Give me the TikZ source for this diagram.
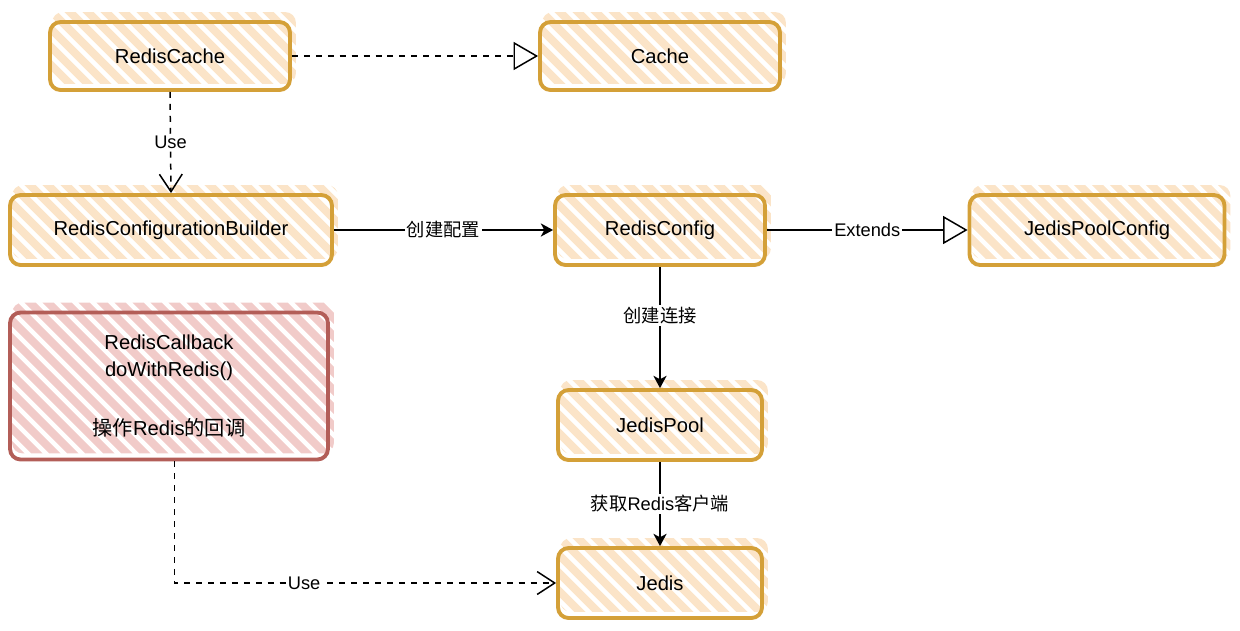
\documentclass[tikz,border=0pt]{standalone}
\usepackage{fontspec}
\setmainfont{Liberation Sans}
\newfontfamily\cjk{Noto Sans CJK SC}
\usetikzlibrary{arrows.meta,backgrounds}
\definecolor{ostroke}{HTML}{D4A038}
\definecolor{ofill}{HTML}{FBE4C8}
\definecolor{rstroke}{HTML}{B35E58}
\definecolor{rfill}{HTML}{F1CBC9}
\tikzset{
  box/.style={draw=ostroke, line width=2.2pt, rounded corners=6pt, inner sep=0pt,
    font=\fontsize{11.5}{15.3}\selectfont, align=center},
  rbox/.style={draw=rstroke},
  lbl/.style={fill=white, inner sep=1pt, font=\fontsize{10.4}{12}\selectfont},
  conn/.style={line width=0.85pt, black},
  dsh/.style={dash pattern=on 3.4pt off 3.4pt},
  opentri/.style={-{Triangle[open, length=14pt, width=16pt]}},
  openv/.style={-{Straight Barb[length=10pt, width=13pt]}},
  solidarr/.style={-{Stealth[length=7pt, width=7.5pt, inset=2pt]}}
}
\newcommand\boxhatch[2]{%
  \begin{scope}[on background layer]
  \begin{scope}
    \clip[rounded corners=6pt] ([shift={(4,-8)}]#1.south west) rectangle ([shift={(4,-8)}]#1.north east);
    \foreach \k in {-180,-162,...,360}
      \draw[#2, line width=4.5pt] ([shift={(\k,-30)}]#1.north west) -- ++(230,230);
  \end{scope}
  \end{scope}}
\begin{document}
\begin{tikzpicture}[x=0.02cm, y=-0.02cm]
\useasboundingbox (0,0) rectangle (1240,630);

\node[box, minimum width=4.8cm, minimum height=1.36cm] (rc) at (170,56) {RedisCache};
\node[box, minimum width=4.8cm, minimum height=1.36cm] (cache) at (660,56) {Cache};
\node[box, minimum width=6.44cm, minimum height=1.4cm] (rcb) at (171,230) {RedisConfigurationBuilder};
\node[box, minimum width=4.2cm, minimum height=1.4cm] (rconf) at (660,230) {RedisConfig};
\node[box, minimum width=5.1cm, minimum height=1.4cm] (jpc) at (1097,230) {JedisPoolConfig};
\node[box, rbox, minimum width=6.36cm, minimum height=2.94cm] (cb) at (169,386)
  {RedisCallback\\doWithRedis()\\[18pt]{\cjk 操作}Redis{\cjk 的回调}};
\node[box, minimum width=4.08cm, minimum height=1.4cm] (jp) at (660,425) {JedisPool};
\node[box, minimum width=4.08cm, minimum height=1.4cm] (jedis) at (660,583) {Jedis};

\boxhatch{rc}{ofill}
\boxhatch{cache}{ofill}
\boxhatch{rcb}{ofill}
\boxhatch{rconf}{ofill}
\boxhatch{jpc}{ofill}
\boxhatch{cb}{rfill}
\boxhatch{jp}{ofill}
\boxhatch{jedis}{ofill}

\draw[conn, dsh, opentri] (rc.east) -- (cache.west);
\draw[conn, dsh, openv] (rc.south) -- node[lbl] {Use} (rcb.north);
\draw[conn, solidarr] (rcb.east) -- node[lbl] {\cjk 创建配置} (rconf.west);
\draw[conn, opentri] (rconf.east) -- node[lbl] {Extends} (jpc.west);
\draw[conn, solidarr] (rconf.south) -- node[lbl, pos=0.4] {\cjk 创建连接} (jp.north);
\draw[conn, solidarr] (jp.south) -- node[lbl] {{\cjk 获取}Redis{\cjk 客户端}} (jedis.north);
\draw[conn, dsh, openv] ([xshift=3]cb.south) |- node[lbl, pos=0.67] {Use} (jedis.west);
\end{tikzpicture}
\end{document}
